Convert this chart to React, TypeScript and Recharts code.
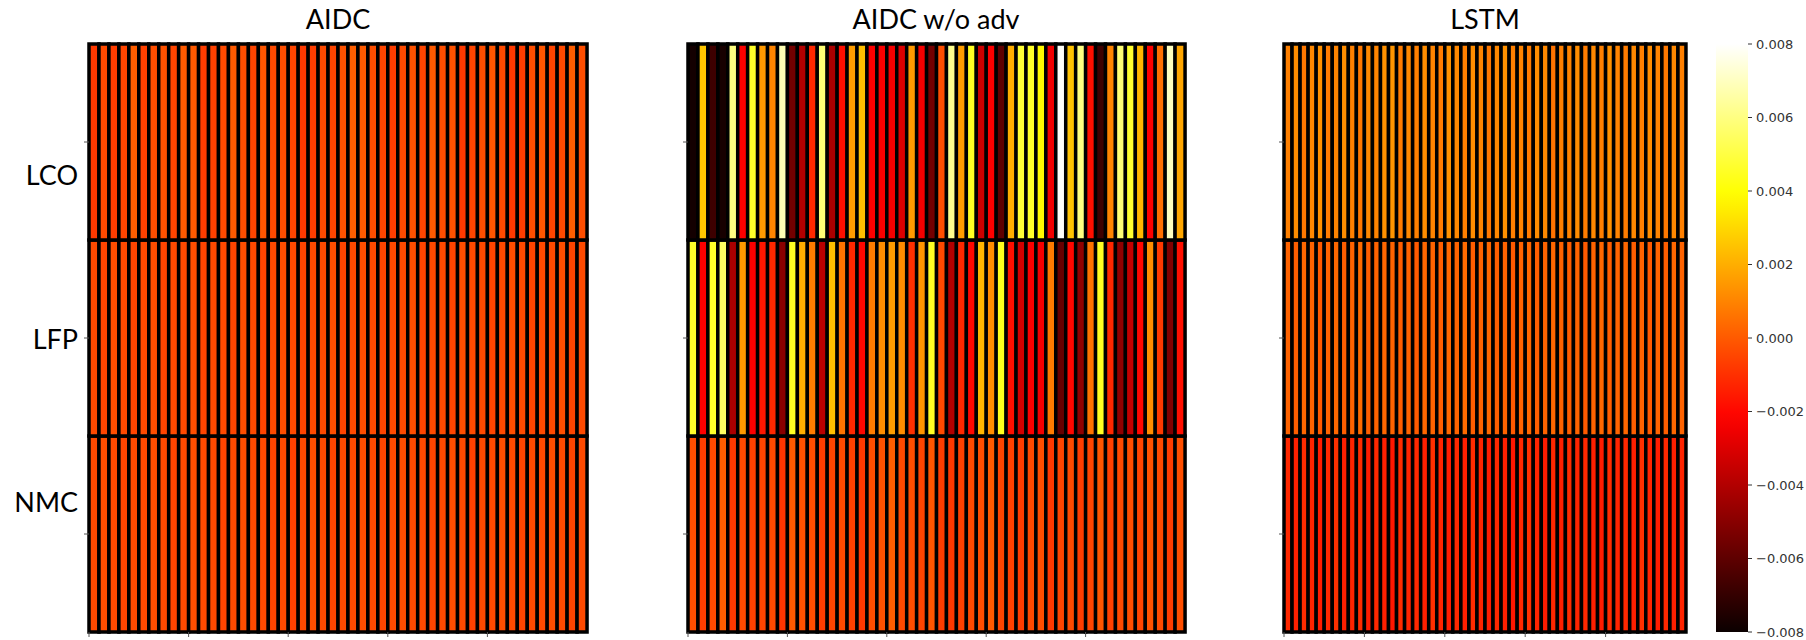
import React from 'react'
import { BarChart, Bar, Cell, XAxis, YAxis } from 'recharts'

// colour scale limits and labels
const vmin = -0.008
const vmax = 0.008
const rowNames = ['LCO', 'LFP', 'NMC']
const colTicks = [0, 10, 20, 30, 40]
const rowTicks = [0.5, 1.5, 2.5]
const cbTicks = [-0.008, -0.006, -0.004, -0.002, 0, 0.002, 0.004, 0.006, 0.008]
const titles = ['AIDC', 'AIDC w/o adv', 'LSTM']

// AIDC
const aidcLCO = [-0.0008, -0.0004, -0.0007, -0.0005, 0.0001, -0.0006, -0.0003, -0.0002, -0.0005, 0.0, 0.0, -0.0007, -0.0006, -0.0004, 0.0, -0.0003, -0.0005, -0.0001, -0.0004, -0.0003, -0.0005, -0.0008, -0.0007, -0.0004, -0.0005, -0.0002, 0.0001, 0.0, -0.0003, -0.0005, -0.0007, -0.0004, -0.0002, -0.0005, 0.0, -0.0003, -0.0002, -0.0008, -0.0005, -0.0003, -0.0001, -0.0004, -0.0008, -0.0007, -0.0003, -0.0001, -0.0005, -0.0004, 0.0001, -0.0003]
const aidcLFP = [-0.0004, -0.0005, -0.0003, -0.0004, -0.0005, -0.0004, -0.0003, -0.0005, -0.0004, -0.0004, -0.0003, -0.0005, -0.0004, -0.0004, -0.0005, -0.0003, -0.0004, -0.0005, -0.0004, -0.0003, -0.0004, -0.0005, -0.0004, -0.0004, -0.0003, -0.0005, -0.0004, -0.0003, -0.0004, -0.0005, -0.0004, -0.0004, -0.0003, -0.0005, -0.0004, -0.0004, -0.0005, -0.0003, -0.0004, -0.0004, -0.0005, -0.0004, -0.0003, -0.0004, -0.0005, -0.0004, -0.0004, -0.0003, -0.0005, -0.0004]
const aidcNMC = [-0.0004, -0.0003, -0.0004, -0.0005, -0.0004, -0.0004, -0.0003, -0.0004, -0.0005, -0.0004, -0.0003, -0.0004, -0.0004, -0.0005, -0.0004, -0.0003, -0.0004, -0.0004, -0.0005, -0.0004, -0.0006, -0.0004, -0.0003, -0.0004, -0.0005, -0.0004, -0.0004, -0.0003, -0.0004, -0.0005, -0.0004, -0.0003, -0.0004, -0.0004, -0.0005, -0.0004, -0.0003, -0.0004, -0.0006, -0.0004, -0.0004, -0.0003, -0.0004, -0.0005, -0.0004, -0.0004, -0.0003, -0.0004, -0.0005, -0.0004]

// AIDC w/o adv
const noAdvLCO = [-0.0078, 0.0026, -0.0068, -0.0077, 0.006, -0.0022, 0.0046, 0.0015, 0.001, 0.0068, -0.0055, -0.004, -0.0012, 0.0058, -0.0042, -0.0018, 0.0016, 0.0024, -0.0022, -0.0023, -0.0024, -0.003, 0.0015, -0.0024, -0.0055, -0.0003, 0.0062, 0.0016, 0.0045, -0.0034, -0.0022, -0.006, 0.002, 0.0048, 0.0046, 0.0038, -0.0025, 0.0079, 0.0025, 0.006, -0.0018, -0.0068, 0.001, 0.0058, 0.0047, 0.0022, -0.0022, 0.0005, 0.007, 0.0018]
const noAdvLFP = [0.0046, -0.0022, 0.0046, 0.0055, -0.0042, 0.0015, -0.0022, -0.0016, -0.0012, -0.005, 0.0045, 0.002, 0.0008, -0.0038, 0.0024, 0.0006, -0.0012, -0.002, 0.0008, 0.0012, 0.0016, 0.0012, -0.001, 0.0014, 0.0045, -0.0004, -0.004, -0.0012, -0.002, 0.0022, 0.0012, 0.0044, -0.0018, -0.0032, -0.0022, -0.0024, 0.0008, -0.0058, -0.002, -0.0048, 0.0006, 0.0045, -0.0012, -0.0048, -0.0036, -0.002, 0.0012, -0.0008, -0.0052, -0.0018]
const noAdvNMC = [-0.0003, -0.0007, -0.0004, 0.0001, -0.0008, -0.0004, -0.0006, -0.0005, -0.0004, -0.0009, 0.0, -0.0002, -0.0003, -0.0007, -0.0005, -0.0004, -0.0006, -0.0008, -0.0003, -0.0002, 0.0001, -0.0004, -0.0003, -0.0005, -0.0001, -0.0007, -0.0008, -0.0006, -0.0004, -0.0003, 0.0, -0.0005, -0.0006, -0.0007, -0.0004, -0.0003, -0.0008, -0.0005, -0.0004, -0.0007, -0.0005, -0.0001, -0.0006, -0.0004, -0.0003, -0.0005, -0.0002, -0.0004, -0.0007, -0.0003]

// LSTM
const lstmLCO = [0.0009, 0.0012, 0.0007, 0.0011, 0.0013, 0.0008, 0.001, 0.0012, 0.0009, 0.0007, 0.0011, 0.001, 0.0013, 0.0014, 0.0008, 0.0011, 0.0009, 0.0012, 0.001, 0.0008, 0.0013, 0.0011, 0.0009, 0.0012, 0.001, 0.0007, 0.0011, 0.0013, 0.0009, 0.001, 0.0008, 0.0012, 0.0011, 0.0006, 0.0009, 0.001, 0.0012, 0.0008, 0.0011, 0.0009, 0.0013, 0.001, 0.0008, 0.0011, 0.0009, 0.0012, 0.001, 0.0007, 0.0011, 0.0009]
const lstmLFP = [0.0002, 0.0001, 0.0003, 0.0002, 0.0, 0.0002, 0.0003, 0.0001, 0.0002, 0.0004, 0.0001, 0.0002, 0.0003, 0.0002, 0.0001, 0.0002, 0.0, 0.0003, 0.0002, 0.0001, 0.0003, 0.0002, 0.0004, 0.0001, 0.0002, 0.0003, 0.0001, 0.0002, 0.0, 0.0002, 0.0003, 0.0001, 0.0002, 0.0003, 0.0002, 0.0001, 0.0002, 0.0, 0.0002, 0.0003, 0.0001, 0.0002, 0.0003, 0.0001, 0.0002, 0.0, 0.0002, 0.0001, 0.0003, 0.0002]
const lstmNMC = [-0.0012, -0.0014, -0.0011, -0.0013, -0.0015, -0.0012, -0.001, -0.0014, -0.0013, -0.0011, -0.0015, -0.0012, -0.0014, -0.0016, -0.0011, -0.0013, -0.0012, -0.0014, -0.001, -0.0013, -0.0015, -0.0012, -0.0014, -0.0011, -0.0013, -0.0015, -0.0012, -0.0014, -0.0016, -0.0012, -0.001, -0.0013, -0.0015, -0.0012, -0.0014, -0.0011, -0.0013, -0.0012, -0.0014, -0.0015, -0.0011, -0.0013, -0.0012, -0.0014, -0.001, -0.0013, -0.0015, -0.0012, -0.0014, -0.0013]

const PLOT_TOP = 44
const PLOT_H = 588
const PAD = 2
const AXIS_H = 10
const CB_PAD = 12

// matplotlib "hot"
function hot(v: number) {
  const t = Math.min(1, Math.max(0, (v - vmin) / (vmax - vmin)))
  const r = t < 0.365079 ? 0.0416 + (1 - 0.0416) * (t / 0.365079) : 1
  const g = t < 0.365079 ? 0 : t < 0.746032 ? (t - 0.365079) / (0.746032 - 0.365079) : 1
  const b = t < 0.746032 ? 0 : (t - 0.746032) / (1 - 0.746032)
  const c = (x: number) => Math.round(x * 255)
  return `rgb(${c(r)},${c(g)},${c(b)})`
}

const ColTick = (props: any) => {
  const { x, y, half } = props
  const cx = x - half
  return <line x1={cx} x2={cx} y1={y - 5} y2={y} stroke="#555" strokeWidth={1} />
}

const labelShift: Record<string, number> = { LCO: 32, LFP: 0, NMC: -33 }

const RowLabel = (props: any) => {
  const { x, y, payload } = props
  const name = rowNames[2 - Math.floor(payload.value)]
  return (
    <text x={x} y={y + labelShift[name]} textAnchor="end" dominantBaseline="central"
      fontSize={27} fontFamily="Lato, 'Open Sans', sans-serif" fill="#000">
      {name}
    </text>
  )
}

const NoLabel = () => <g />

function HeatPanel({ rows, left, width, yw, labels }: { rows: number[][]; left: number; width: number; yw: number; labels: boolean }) {
  const data = rows[0].map((_, i) => ({ col: i, LCO: 1, LFP: 1, NMC: 1 }))
  const order = ['NMC', 'LFP', 'LCO']
  return (
    <div style={{ position: 'absolute', left: left - yw, top: PLOT_TOP - PAD }}>
      <BarChart width={width + yw + PAD} height={PLOT_H + PAD + AXIS_H} data={data}
        margin={{ top: PAD, right: PAD, bottom: 0, left: 0 }} barCategoryGap={0} barGap={0}>
        <XAxis dataKey="col" ticks={colTicks} interval={0} height={AXIS_H} axisLine={false}
          tickLine={false} tickSize={5} tickMargin={0} tick={<ColTick half={width / 100} />} />
        <YAxis type="number" domain={[0, 3]} ticks={rowTicks} width={yw} axisLine={false}
          tickSize={5} tickLine={{ stroke: '#555' }} tickMargin={6}
          tick={labels ? <RowLabel /> : <NoLabel />} />
        {order.map((key) => {
          const vals = rows[rowNames.indexOf(key)]
          return (
            <Bar key={key} dataKey={key} stackId="a" isAnimationActive={false} stroke="#000" strokeWidth={3.5}>
              {vals.map((v, i) => <Cell key={i} fill={hot(v)} />)}
            </Bar>
          )
        })}
      </BarChart>
    </div>
  )
}

const fmt = (v: number) => (v < 0 ? '\u2212' : '') + Math.abs(v).toFixed(3)

function ColorBar({ left, width }: { left: number; width: number }) {
  const data = [{ k: 'cb', range: [vmin, vmax] }]
  const stops = Array.from({ length: 33 }, (_, i) => i / 32)
  return (
    <div style={{ position: 'absolute', left, top: PLOT_TOP - CB_PAD }}>
      <svg width={0} height={0} style={{ position: 'absolute' }}>
        <defs>
          <linearGradient id="hotGrad" x1="0" y1="1" x2="0" y2="0">
            {stops.map((s) => <stop key={s} offset={s} stopColor={hot(vmin + s * (vmax - vmin))} />)}
          </linearGradient>
        </defs>
      </svg>
      <BarChart width={width + 60} height={PLOT_H + 2 * CB_PAD} data={data}
        margin={{ top: CB_PAD, right: 0, bottom: CB_PAD, left: 0 }} barCategoryGap={0}>
        <XAxis dataKey="k" hide />
        <YAxis orientation="right" type="number" domain={[vmin, vmax]} ticks={cbTicks} interval={0}
          width={60} axisLine={false} tickSize={4} tickMargin={4} tickFormatter={fmt}
          tickLine={{ stroke: '#333' }}
          tick={{ fontSize: 13, fill: '#333', fontFamily: 'DejaVu Sans' }} />
        <Bar dataKey="range" fill="url(#hotGrad)" isAnimationActive={false} />
      </BarChart>
    </div>
  )
}

const panels = [
  { rows: [aidcLCO, aidcLFP, aidcNMC], left: 89, width: 498, yw: 89, labels: true, cx: 338 },
  { rows: [noAdvLCO, noAdvLFP, noAdvNMC], left: 688, width: 497, yw: 12, labels: false, cx: 936 },
  { rows: [lstmLCO, lstmLFP, lstmNMC], left: 1284, width: 402, yw: 12, labels: false, cx: 1485 },
]

export default function App() {
  return (
    <div style={{ position: 'absolute', left: 0, top: 0, width: 1806, height: 640, background: '#fff', overflow: 'hidden' }}>
      {panels.map((p, i) => (
        <div key={'t' + i} style={{
          position: 'absolute', left: p.cx, top: 2, transform: 'translateX(-50%)', whiteSpace: 'nowrap',
          fontFamily: "Lato, 'Open Sans', sans-serif", fontSize: 27, color: '#000',
        }}>
          {titles[i]}
        </div>
      ))}
      {panels.map((p, i) => (
        <HeatPanel key={i} rows={p.rows} left={p.left} width={p.width} yw={p.yw} labels={p.labels} />
      ))}
      <ColorBar left={1716} width={32} />
    </div>
  )
}
